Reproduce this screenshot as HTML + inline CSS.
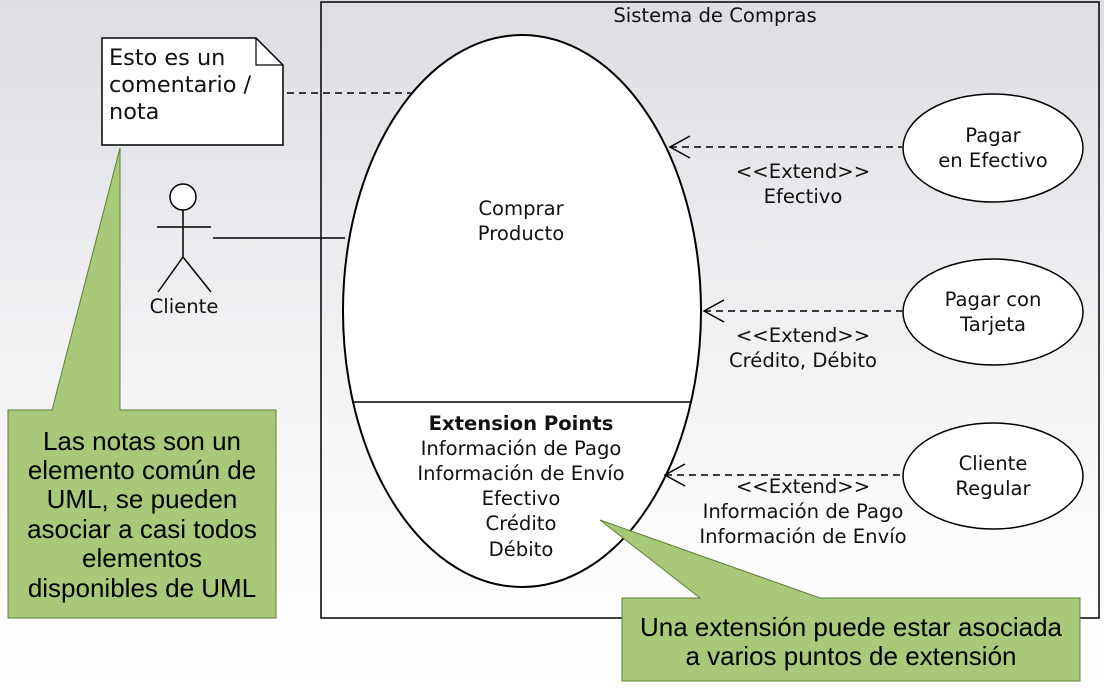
<!DOCTYPE html>
<html><head><meta charset="utf-8"><style>
body{margin:0;width:1104px;height:697px;overflow:hidden;background:linear-gradient(#dcdee2,#fbfbfc 75%,#ffffff);}
svg{display:block}
text{font-family:"DejaVu Sans","Liberation Sans",sans-serif;font-size:19.6px;fill:#111}
.g{font-family:"Liberation Sans",sans-serif;font-size:26px;fill:#000}
</style></head><body>
<svg width="1104" height="697" viewBox="0 0 1104 697">
<rect x="321" y="2" width="778" height="616" fill="none" stroke="#000" stroke-width="1.5"/>
<text x="715" y="22" text-anchor="middle">Sistema de Compras</text>
<!-- note -->
<path d="M102 38 H256 L283 65 V145 H102 Z" fill="#fff" stroke="#000" stroke-width="1.5"/>
<path d="M256 38 V65 H283" fill="none" stroke="#000" stroke-width="1.2"/>
<text x="109" y="65" style="font-size:22.4px">Esto es un</text>
<text x="109" y="92" style="font-size:22.4px">comentario /</text>
<text x="109" y="119" style="font-size:22.4px">nota</text>
<line x1="287" y1="93" x2="412" y2="93" stroke="#000" stroke-width="1.5" stroke-dasharray="7,5"/>
<!-- main ellipse -->
<ellipse cx="522" cy="311" rx="179" ry="276" fill="#fff" stroke="#000" stroke-width="2"/>
<line x1="352" y1="402" x2="692" y2="402" stroke="#000" stroke-width="1.5"/>
<text x="521" y="215" text-anchor="middle">Comprar</text>
<text x="521" y="240" text-anchor="middle">Producto</text>
<text x="521" y="430" text-anchor="middle" style="font-weight:bold">Extension Points</text>
<text x="521" y="455" text-anchor="middle">Información de Pago</text>
<text x="521" y="480" text-anchor="middle">Información de Envío</text>
<text x="521" y="505" text-anchor="middle">Efectivo</text>
<text x="521" y="530" text-anchor="middle">Crédito</text>
<text x="521" y="556" text-anchor="middle">Débito</text>
<!-- actor -->
<circle cx="183" cy="197" r="13" fill="#fff" stroke="#000" stroke-width="1.5"/>
<path d="M183 210 V257 M157 227 H211 M183 257 L158 292 M183 257 L211 292" stroke="#000" stroke-width="1.5" fill="none"/>
<text x="184" y="313" text-anchor="middle">Cliente</text>
<line x1="213" y1="238" x2="345" y2="238" stroke="#000" stroke-width="1.5"/>
<!-- small use cases -->
<ellipse cx="993" cy="148" rx="90" ry="54" fill="#fff" stroke="#000" stroke-width="1.5"/>
<text x="993" y="142" text-anchor="middle">Pagar</text>
<text x="993" y="167" text-anchor="middle">en Efectivo</text>
<ellipse cx="993" cy="312" rx="90" ry="53" fill="#fff" stroke="#000" stroke-width="1.5"/>
<text x="993" y="306" text-anchor="middle">Pagar con</text>
<text x="993" y="331" text-anchor="middle">Tarjeta</text>
<ellipse cx="993" cy="476" rx="90" ry="53" fill="#fff" stroke="#000" stroke-width="1.5"/>
<text x="993" y="470" text-anchor="middle">Cliente</text>
<text x="993" y="495" text-anchor="middle">Regular</text>
<!-- extend arrows -->
<g stroke="#000" stroke-width="1.5" fill="none">
<line x1="670" y1="147" x2="902" y2="147" stroke-dasharray="7,5"/>
<path d="M690 136 L670 147 L690 158"/>
<line x1="704" y1="311" x2="902" y2="311" stroke-dasharray="7,5"/>
<path d="M724 300 L704 311 L724 322"/>
<line x1="665" y1="475" x2="902" y2="475" stroke-dasharray="7,5"/>
<path d="M685 464 L665 475 L685 486"/>
</g>
<text x="803" y="178" text-anchor="middle">&lt;&lt;Extend&gt;&gt;</text>
<text x="803" y="203" text-anchor="middle">Efectivo</text>
<text x="803" y="342" text-anchor="middle">&lt;&lt;Extend&gt;&gt;</text>
<text x="803" y="367" text-anchor="middle">Crédito, Débito</text>
<text x="803" y="493" text-anchor="middle">&lt;&lt;Extend&gt;&gt;</text>
<text x="803" y="518" text-anchor="middle">Información de Pago</text>
<text x="803" y="543" text-anchor="middle">Información de Envío</text>
<!-- green callouts -->
<path d="M8 410 H52 L120 148 V410 H276 V618 H8 Z" fill="#a8c87a" stroke="#5f7f35" stroke-width="1"/>
<text class="g" x="142" y="450" text-anchor="middle">Las notas son un</text>
<text class="g" x="142" y="479" text-anchor="middle">elemento común de</text>
<text class="g" x="142" y="508" text-anchor="middle">UML, se pueden</text>
<text class="g" x="142" y="538" text-anchor="middle">asociar a casi todos</text>
<text class="g" x="142" y="567" text-anchor="middle">elementos</text>
<text class="g" x="142" y="597" text-anchor="middle">disponibles de UML</text>
<path d="M622 598 H700 L600 520 L820 598 H1080 V681 H622 Z" fill="#a8c87a" stroke="#5f7f35" stroke-width="1"/>
<text class="g" x="851" y="636" text-anchor="middle">Una extensión puede estar asociada</text>
<text class="g" x="851" y="665" text-anchor="middle">a varios puntos de extensión</text>
</svg>
</body></html>
